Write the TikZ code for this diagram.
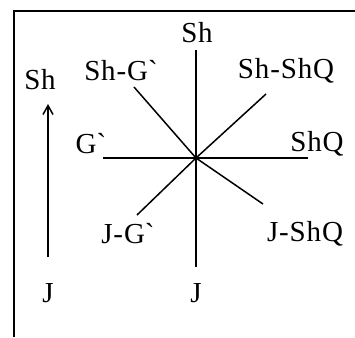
\documentclass[tikz,border=0pt]{standalone}
\usepackage{fontspec}
\setmainfont{Liberation Serif}[LetterSpace=3]
\usetikzlibrary{arrows.meta}
\begin{document}
\begin{tikzpicture}[x=1pt,y=-1pt,
  lbl/.style={inner sep=0pt,font=\fontsize{29}{32}\selectfont},
  ray/.style={line width=1.5pt},
  frame/.style={line width=1.8pt}]
\useasboundingbox (0,0) rectangle (355,337);
% frame
\coordinate (ftr) at (355,11);
\coordinate (ftl) at (14,11);
\coordinate (fbl) at (14,337);
\draw[frame] (ftr) -- (ftl) -- (fbl);
% centre and ray ends
\coordinate (O) at (196,158);
\coordinate (eN) at (196,50);
\coordinate (eS) at (196,267);
\coordinate (eW) at (103,158);
\coordinate (eE) at (308,158);
\coordinate (eNW) at (134,87);
\coordinate (eNE) at (266,94);
\coordinate (eSW) at (137,215);
\coordinate (eSE) at (263,204);
\draw[ray] (eN) -- (eS);
\draw[ray] (eW) -- (eE);
\draw[ray] (eNW) -- (O) -- (eSW);
\draw[ray] (eNE) -- (O);
\draw[ray] (O) -- (eSE);
% labels
\node[lbl] (lSh) at (197,33) {Sh};
\node[lbl] (lShG) at (121,71) {Sh-G\textasciigrave};
\node[lbl] (lShShQ) at (286,71) {Sh-ShQ};
\node[lbl] (lG) at (91,144) {G\textasciigrave};
\node[lbl] (lShQ) at (317,144) {ShQ};
\node[lbl] (lJG) at (128,234) {J-G\textasciigrave};
\node[lbl] (lJShQ) at (305,234) {J-ShQ};
\node[lbl] (lJ) at (196,293) {J};
% side arrow
\node[lbl] (sSh) at (40,80) {Sh};
\node[lbl] (sJ) at (48,293) {J};
\coordinate (aB) at (48,257);
\coordinate (aT) at (48,104);
\draw[ray,-{Straight Barb[length=9pt,width=10pt]}] (aB) -- (aT);
\end{tikzpicture}
\end{document}
